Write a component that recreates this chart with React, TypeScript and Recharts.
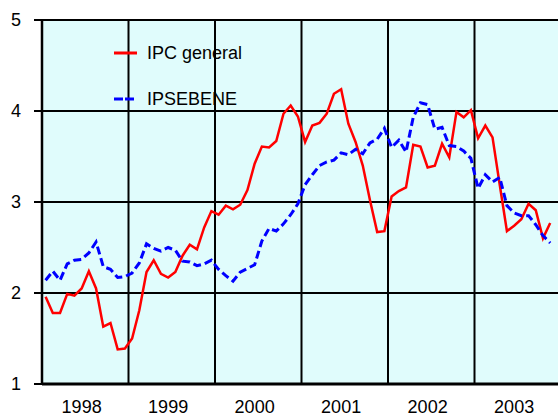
import React from 'react'
import {
  LineChart,
  Line,
  XAxis,
  YAxis,
  CartesianGrid,
  ReferenceLine,
  Legend,
} from 'recharts'

const years = ['1998', '1999', '2000', '2001', '2002', '2003']

// monthly year-on-year rates, Jan 1998 .. Dec 2003
const ipcGeneral = [
  1.96, 1.78, 1.78, 1.99, 1.97, 2.05, 2.24, 2.05, 1.63, 1.67, 1.38, 1.39,
  1.5, 1.81, 2.23, 2.36, 2.21, 2.17, 2.23, 2.41, 2.53, 2.48, 2.72, 2.9,
  2.86, 2.96, 2.92, 2.97, 3.13, 3.42, 3.61, 3.6, 3.67, 3.97, 4.06, 3.94,
  3.66, 3.84, 3.87, 3.97, 4.19, 4.24, 3.86, 3.66, 3.4, 3.02, 2.67, 2.68,
  3.06, 3.12, 3.16, 3.63, 3.61, 3.38, 3.4, 3.64, 3.49, 3.99, 3.93, 4.01,
  3.7, 3.84, 3.71, 3.19, 2.68, 2.74, 2.81, 2.98, 2.91, 2.6, 2.77, null,
]

const ipsebene = [
  2.14, 2.24, 2.14, 2.32, 2.36, 2.37, 2.44, 2.56, 2.29, 2.26, 2.17, 2.18,
  2.22, 2.33, 2.54, 2.49, 2.46, 2.5, 2.47, 2.35, 2.34, 2.3, 2.32, 2.36,
  2.26, 2.19, 2.13, 2.23, 2.27, 2.31, 2.57, 2.71, 2.68, 2.76, 2.86, 2.98,
  3.19, 3.3, 3.4, 3.44, 3.46, 3.54, 3.52, 3.58, 3.53, 3.65, 3.69, 3.81,
  3.6, 3.68, 3.55, 3.93, 4.09, 4.07, 3.8, 3.82, 3.62, 3.61, 3.56, 3.48,
  3.15, 3.3, 3.22, 3.27, 2.96, 2.88, 2.85, 2.85, 2.75, 2.63, 2.55, null,
]

const yTicks = [1, 2, 3, 4, 5]

const data = ipcGeneral.map((v, i) => ({
  m: i + 0.5,
  ipc: v,
  ipse: ipsebene[i],
}))

const yearTicks = years.map((_, i) => i * 12 + 5.5)
const yearLines = years.slice(1).map((_, i) => (i + 1) * 12)

const FONT = '"Liberation Sans", Arial, sans-serif'

function LegendBox(props: any) {
  const { payload = [] } = props
  return (
    <div style={{ fontFamily: FONT, fontSize: 18, color: '#000' }}>
      {payload.map((entry: any) => (
        <div
          key={entry.value}
          style={{ display: 'flex', alignItems: 'center', height: 46 }}
        >
          <svg width={33} height={10} style={{ display: 'block' }}>
            <line
              x1={0}
              x2={entry.dataKey === 'ipc' ? 23 : 20}
              y1={5}
              y2={5}
              stroke={entry.color}
              strokeWidth={3}
              strokeDasharray={entry.dataKey === 'ipc' ? undefined : '9 2'}
            />
          </svg>
          <span>{entry.value}</span>
        </div>
      ))}
    </div>
  )
}

export default function App() {
  return (
    <div
      style={{
        position: 'absolute',
        left: 0,
        top: 0,
        width: 558,
        height: 416,
        overflow: 'hidden',
        background: '#fff',
      }}
    >
      <LineChart
        width={561}
        height={416}
        data={data}
        margin={{ top: 20, right: 0, bottom: 0, left: 0 }}
      >
        <CartesianGrid
          vertical={false}
          stroke="#000"
          strokeWidth={2}
          fill="#E0FCFC"
          fillOpacity={1}
        />
        {yearLines.map((x) => (
          <ReferenceLine key={x} x={x} stroke="#000" strokeWidth={2} />
        ))}
        <XAxis
          dataKey="m"
          type="number"
          domain={[0, 72]}
          ticks={yearTicks}
          tickFormatter={(v: number) => years[Math.floor(v / 12)]}
          interval={0}
          height={32}
          tickSize={0}
          tickMargin={16}
          tickLine={false}
          axisLine={{ stroke: '#000', strokeWidth: 3 }}
          tick={{ fill: '#000', fontSize: 18, fontFamily: FONT }}
        />
        <YAxis
          type="number"
          domain={[1, 5]}
          ticks={yTicks}
          interval={0}
          width={42}
          tickSize={8}
          tickMargin={13}
          tickLine={{ stroke: '#000', strokeWidth: 2 }}
          axisLine={{ stroke: '#000', strokeWidth: 2.5 }}
          tick={{ fill: '#000', fontSize: 18, fontFamily: FONT }}
        />
        <Legend
          layout="vertical"
          align="center"
          verticalAlign="middle"
          content={<LegendBox />}
          wrapperStyle={{ top: 30, left: 114, width: 'auto' }}
        />
        <Line
          type="linear"
          dataKey="ipc"
          name="IPC general"
          stroke="#FF0000"
          strokeWidth={2.5}
          dot={false}
          isAnimationActive={false}
        />
        <Line
          type="linear"
          dataKey="ipse"
          name="IPSEBENE"
          stroke="#0000FF"
          strokeWidth={3}
          strokeDasharray="8 4"
          dot={false}
          isAnimationActive={false}
        />
      </LineChart>
    </div>
  )
}
